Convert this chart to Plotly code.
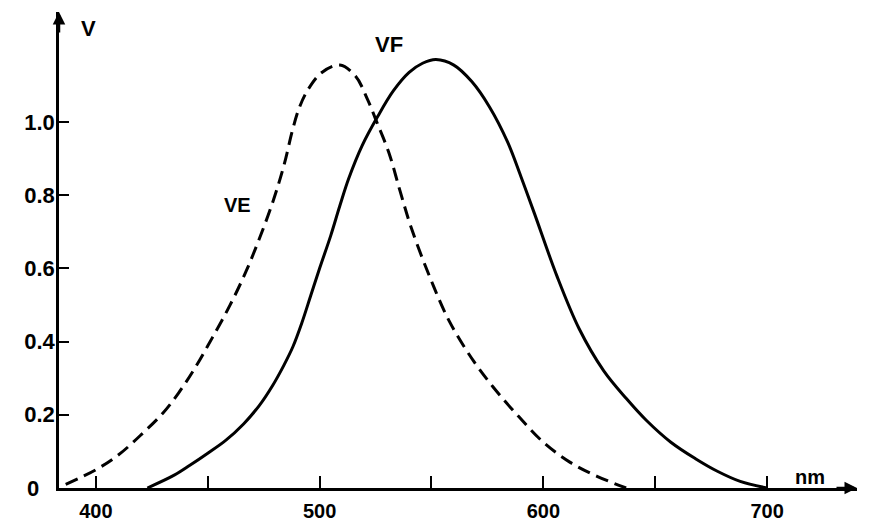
import plotly.graph_objects as go

# Wavelength (nm) and relative sensitivity values
ve_nm = [386.5, 400, 410, 421, 430, 437, 444, 452, 460, 467, 473, 479, 484, 488,
         491, 495, 501, 509, 516, 521.5, 525.5, 531, 536, 541, 549, 558, 569, 579,
         589, 600, 612, 624, 637]
ve_v = [0.01, 0.05, 0.09, 0.15, 0.205, 0.26, 0.325, 0.41, 0.50, 0.59, 0.68, 0.78,
        0.88, 0.98, 1.04, 1.09, 1.135, 1.155, 1.125, 1.06, 1.0, 0.915, 0.81, 0.71,
        0.58, 0.455, 0.345, 0.265, 0.195, 0.125, 0.07, 0.032, 0.0]

vf_nm = [423, 435, 442, 450, 458, 466, 473, 479, 484, 488, 492, 496, 500, 505, 509,
         513, 519, 526, 533, 540, 546, 552, 560, 568, 576, 584, 590, 596, 606, 616,
         627, 637, 646, 657, 668, 678, 688, 700]
vf_v = [0.0, 0.035, 0.062, 0.095, 0.13, 0.175, 0.225, 0.28, 0.335, 0.385, 0.45, 0.525,
        0.60, 0.69, 0.77, 0.845, 0.935, 1.015, 1.085, 1.135, 1.16, 1.17, 1.155, 1.11,
        1.04, 0.945, 0.85, 0.75, 0.58, 0.435, 0.32, 0.245, 0.185, 0.125, 0.08,
        0.045, 0.018, 0.0]

x_tickvals = [400, 450, 500, 550, 600, 650, 700]
x_ticktext = ["400", "", "500", "", "600", "", "700"]
y_tickvals = [0, 0.2, 0.4, 0.6, 0.8, 1.0]
y_ticktext = ["", "0.2", "0.4", "0.6", "0.8", "1.0"]

FONT = "Liberation Sans"
fs = 22

fig = go.Figure()
fig.add_trace(go.Scatter(x=ve_nm, y=ve_v, mode="lines", line_shape="spline",
                         line=dict(color="black", width=3, dash="13px,7px", smoothing=1),
                         showlegend=False, hoverinfo="skip"))
fig.add_trace(go.Scatter(x=vf_nm, y=vf_v, mode="lines", line_shape="spline",
                         line=dict(color="black", width=3, smoothing=1),
                         showlegend=False, hoverinfo="skip"))

fig.update_layout(
    width=873, height=529,
    margin=dict(l=59, r=16, t=12, b=41),
    paper_bgcolor="white", plot_bgcolor="white",
    font=dict(family=FONT, color="black", size=fs),
    xaxis=dict(range=[383.5, 740.2], showgrid=False, zeroline=False, automargin=False,
               showline=True, linecolor="black", linewidth=2.5,
               ticks="inside", ticklen=12, tickwidth=2, tickcolor="black",
               tickvals=x_tickvals, ticktext=x_ticktext,
               tickfont=dict(family=FONT, size=20, weight="bold"),
               ticklabelstandoff=3),
    yaxis=dict(range=[0, 1.30], showgrid=False, zeroline=False, automargin=False,
               showline=True, linecolor="black", linewidth=2.5,
               ticks="inside", ticklen=10, tickwidth=2, tickcolor="black",
               tickvals=y_tickvals, ticktext=y_ticktext,
               tickfont=dict(family=FONT, size=fs, weight="bold"),
               ticklabelstandoff=-3),
)

ann = [
    dict(x=0, y=1, xref="paper", yref="paper", ax=0, ay=22, text="",
         showarrow=True, arrowhead=2, arrowsize=1, arrowwidth=2.5, arrowcolor="black"),
    dict(x=1, y=0, xref="paper", yref="paper", ax=-22, ay=0, text="",
         showarrow=True, arrowhead=2, arrowsize=1, arrowwidth=2.5, arrowcolor="black"),
    dict(x=-0.033, y=0, xref="paper", yref="y", text="<b>0</b>", showarrow=False,
         xanchor="center", yanchor="middle", font=dict(size=fs)),
    dict(x=0.037, y=1.0, xref="paper", yref="paper", text="<b>V</b>", showarrow=False,
         xanchor="center", yanchor="top", yshift=-2, font=dict(size=fs)),
    dict(x=719, y=0.03, text="<b>nm</b>", showarrow=False,
         xanchor="center", yanchor="middle", font=dict(size=fs - 2)),
    dict(x=463.5, y=0.773, text="<b>VE</b>", showarrow=False,
         xanchor="center", yanchor="middle", font=dict(size=fs - 2)),
    dict(x=531, y=1.21, text="<b>VF</b>", showarrow=False,
         xanchor="center", yanchor="middle", font=dict(size=fs)),
]
fig.update_layout(annotations=ann)

fig.write_html("out.html")
